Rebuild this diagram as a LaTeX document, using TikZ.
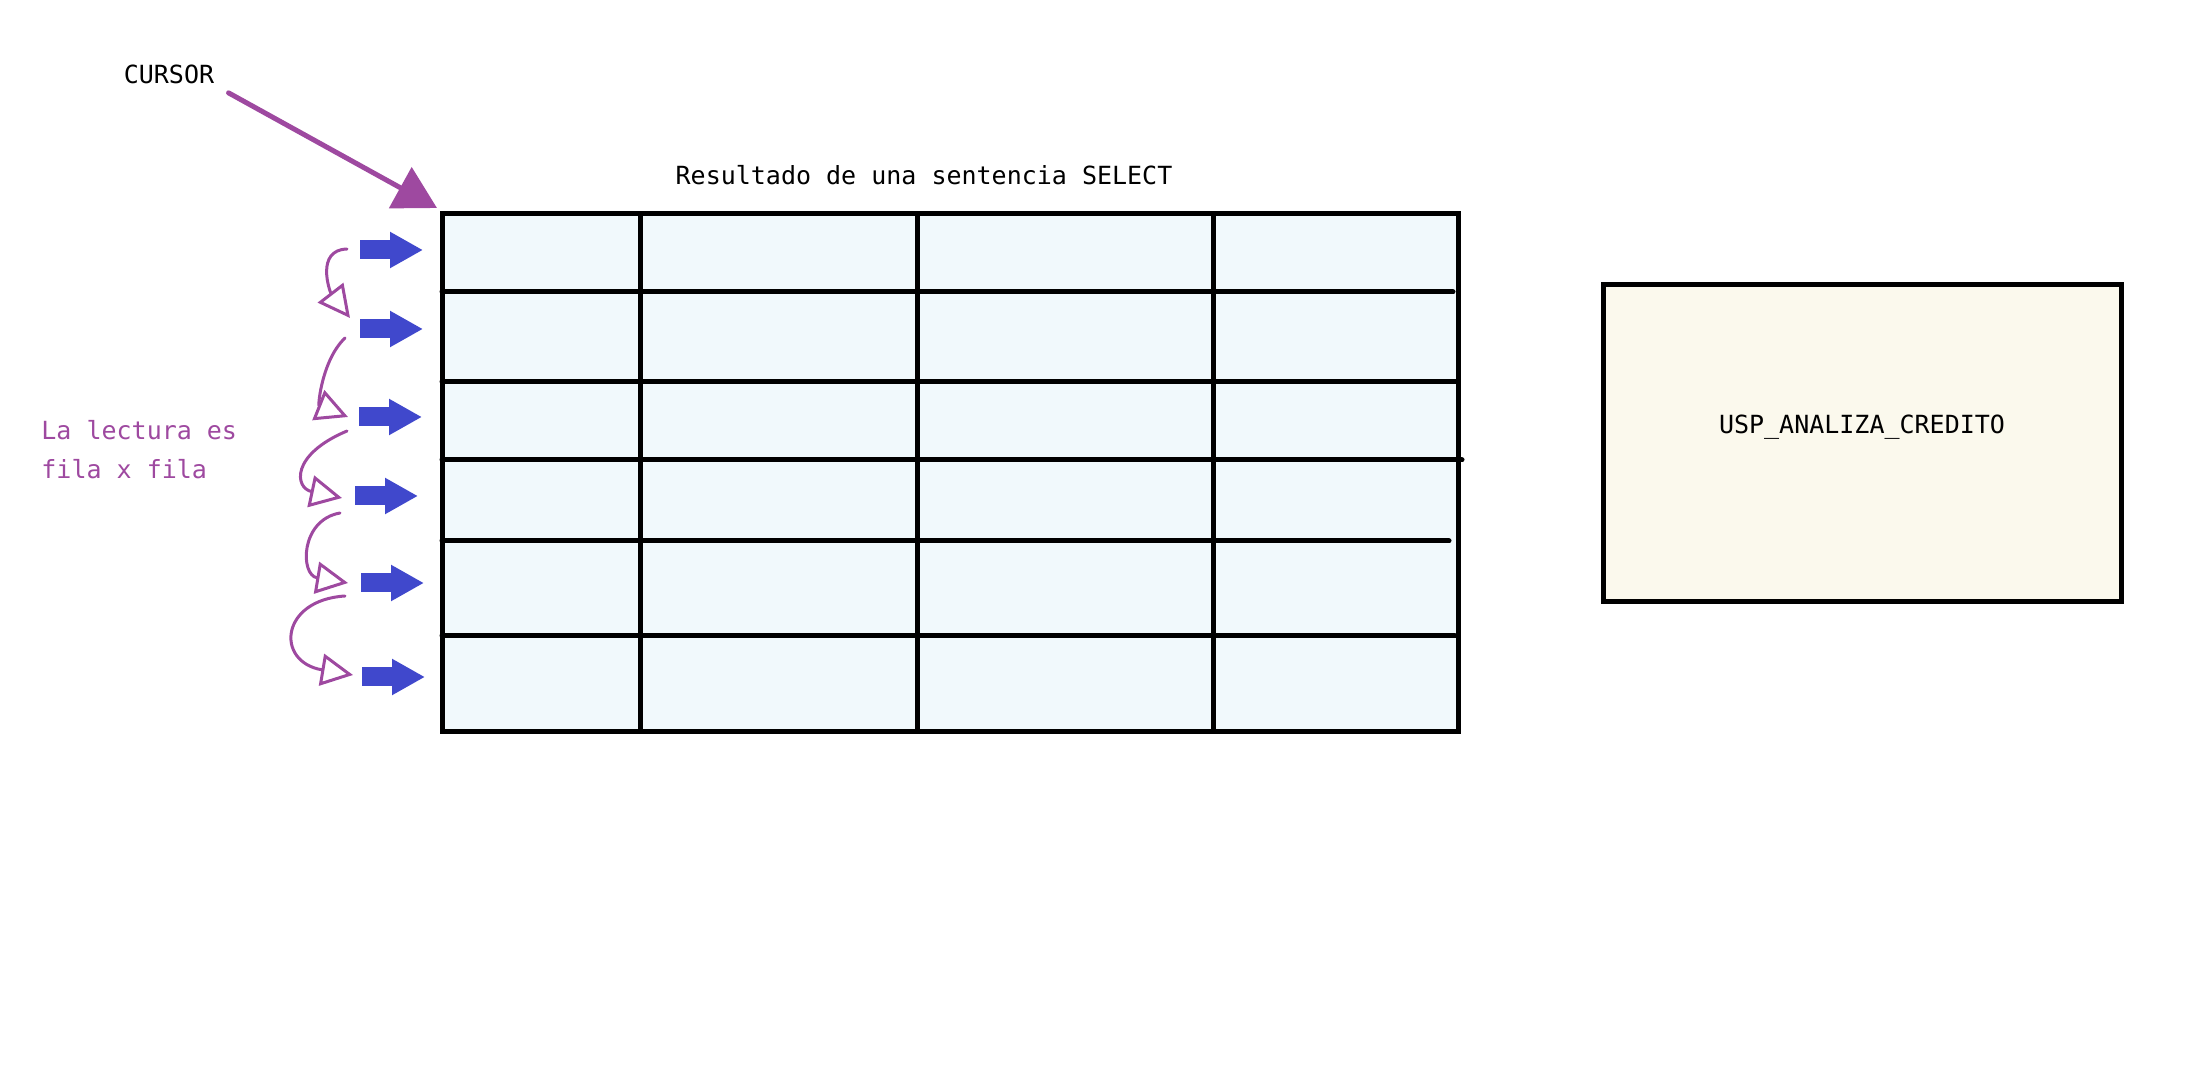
\documentclass[tikz,border=0pt]{standalone}
\usepackage{fontspec}
\setmonofont{DejaVu Sans Mono}
\usetikzlibrary{arrows.meta}
\definecolor{lila}{RGB}{158,73,160}
\definecolor{azulfila}{RGB}{64,72,204}
\definecolor{celeste}{RGB}{241,249,252}
\definecolor{crema}{RGB}{251,249,237}
\tikzset{
  txt/.style={font=\ttfamily\fontsize{12.5}{19.5}\selectfont, inner sep=0pt},
  rejilla/.style={line width=2.5pt, line cap=round},
  filaazul/.style={draw=azulfila, line width=9.5pt, -{Triangle[length=16.5pt,width=17pt]}},
  lectura/.style={draw=lila, line width=1.5pt, line cap=round, -{Triangle[open,length=16pt,width=16pt]}}
}
\begin{document}
\begin{tikzpicture}[x=0.5pt,y=0.5pt]
\useasboundingbox (0,0) rectangle (2192,-1080);
% tabla resultado
\fill[celeste] (442,-214) rectangle (1458,-731);
\foreach \x in {640,917,1213} \draw[rejilla] (\x,-214) -- (\x,-731);
\foreach \y/\xe in {292/1453,382/1458,460/1462,541/1449,636/1455} \draw[rejilla] (442,-\y) -- (\xe,-\y);
\draw[line width=2.5pt] (442,-214) rectangle (1458,-731);
\coordinate (esq) at (442,-214);
\node[txt] (titulo) at (924,-175) {Resultado de una sentencia SELECT};
% cursor
\node[txt] (cursor) at (169,-74) {CURSOR};
\draw[lila, line width=2.5pt, line cap=round, -{Triangle[length=21pt,width=23pt]}]
  ([shift={(14,-9)}]cursor.south east) -- ([shift={(-5,6)}]esq);
% flechas de fila
\foreach \i/\xa/\y in {1/360/250,2/360/329,3/359/417,4/355/496,5/361/583,6/362/677} {
  \coordinate (c\i) at (\xa,-\y);
  \draw[filaazul] (c\i) -- ++(63,0);
}
\draw[lectura] ([shift={(-13,1)}]c1) .. controls +(-32,-1) and +(-20,26) .. ([shift={(-10,11)}]c2);
\draw[lectura] ([shift={(-15,-9)}]c2) .. controls +(-23,-22) and +(-30,12) .. ([shift={(-11,0)}]c3);
\draw[lectura] ([shift={(-12,-14)}]c3) .. controls +(-57,-24) and +(-47,10) .. ([shift={(-13,-2)}]c4);
\draw[lectura] ([shift={(-15,-17)}]c4) .. controls +(-40,-7) and +(-48,8) .. ([shift={(-13,0)}]c5);
\draw[lectura] ([shift={(-16,-13)}]c5) .. controls +(-65,-4) and +(-78,13) .. ([shift={(-9,2)}]c6);
\node[txt, text=lila, align=left, anchor=west] (nota) at (41,-450) {La lectura es\\fila x fila};
% procedimiento
\node[draw, line width=2.5pt, fill=crema, minimum width=259pt, minimum height=158.5pt] (proc) at (1862,-443.5) {};
\node[txt] (proctxt) at ([yshift=8pt]proc.center) {USP\_ANALIZA\_CREDITO};
\end{tikzpicture}
\end{document}
